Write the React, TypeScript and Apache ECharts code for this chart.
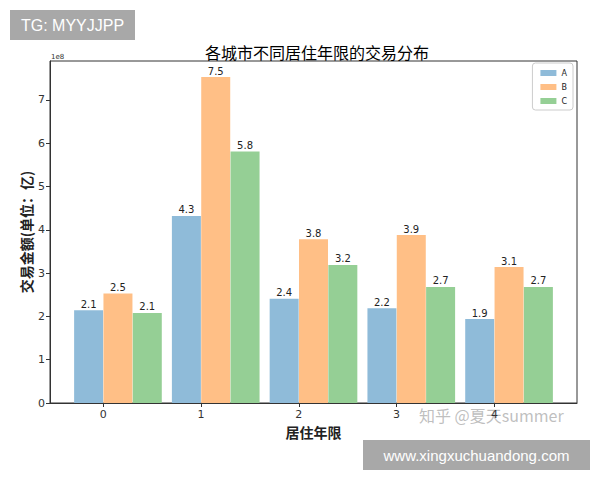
import React, { useEffect, useRef } from "react";
import * as echarts from "echarts";

const categories = [0, 1, 2, 3, 4];
const seriesNames = ["A", "B", "C"];
const valuesA = [2.14, 4.32, 2.41, 2.19, 1.94];
const valuesB = [2.53, 7.53, 3.78, 3.88, 3.14];
const valuesC = [2.08, 5.81, 3.19, 2.68, 2.68];
const yTicks = [0, 1, 2, 3, 4, 5, 6, 7];
const offsets = [-0.15, 0.15, 0.45];
const colors = ["#8fbbd9", "#ffbf86", "#95cf95"];

const FONT = "'Noto Sans CJK SC', 'DejaVu Sans', sans-serif";

export default function App() {
  const ref = useRef<HTMLDivElement>(null);
  useEffect(() => {
    if (!ref.current) return;
    const chart = echarts.init(ref.current, null, { renderer: "svg" });
    const all = [valuesA, valuesB, valuesC];
    chart.setOption({
      animation: false,
      backgroundColor: "#ffffff",
      textStyle: { fontFamily: FONT },
      title: {
        text: "各城市不同居住年限的交易分布",
        left: 312,
        textAlign: "center",
        top: 39,
        textStyle: { fontSize: 16, fontWeight: "normal", color: "#000", fontFamily: FONT },
      },
      legend: {
        data: seriesNames,
        orient: "vertical",
        right: 27,
        top: 63,
        itemWidth: 16,
        itemHeight: 6,
        itemGap: 6,
        icon: "rect",
        borderColor: "#cccccc",
        borderWidth: 1,
        borderRadius: 3,
        padding: [6, 6, 5, 8],
        textStyle: { fontSize: 8, color: "#222", fontFamily: "'DejaVu Sans', sans-serif" },
      },
      grid: {
        left: 50,
        right: 23,
        top: 61,
        bottom: 77,
        show: true,
        borderColor: "#333",
        borderWidth: 1,
        backgroundColor: "transparent",
      },
      xAxis: {
        type: "value",
        min: -0.545,
        max: 4.845,
        name: "居住年限",
        nameLocation: "middle",
        nameGap: 17,
        nameTextStyle: { fontSize: 14, fontWeight: "bold", color: "#222", fontFamily: FONT },
        axisLine: { show: true, onZero: false, lineStyle: { color: "#333" } },
        axisTick: { show: true, customValues: categories, length: 4, lineStyle: { color: "#333" } },
        axisLabel: {
          customValues: categories,
          fontSize: 11,
          color: "#333",
          margin: 6,
          fontFamily: "'DejaVu Sans', sans-serif",
        },
        splitLine: { show: false },
      },
      yAxis: {
        type: "value",
        min: 0,
        max: 7.9,
        name: "交易金额(单位：亿)",
        nameLocation: "middle",
        nameGap: 17,
        nameMoveOverlap: false,
        nameRotate: 90,
        nameTextStyle: { fontSize: 14, fontWeight: "bold", color: "#222", fontFamily: FONT },
        axisLine: { show: true, onZero: false, lineStyle: { color: "#333" } },
        axisTick: { show: true, customValues: yTicks, length: 4, lineStyle: { color: "#333" } },
        axisLabel: {
          customValues: yTicks,
          fontSize: 11,
          color: "#333",
          margin: 5,
          fontFamily: "'DejaVu Sans', sans-serif",
        },
        splitLine: { show: false },
      },
      series: seriesNames.map((name, si) => ({
        name,
        type: "bar",
        barWidth: 29,
        barGap: "-100%",
        itemStyle: { color: colors[si] },
        label: {
          show: true,
          position: "top",
          distance: 1,
          fontSize: 10,
          color: "#222",
          fontFamily: "'DejaVu Sans', sans-serif",
          formatter: (p: any) => p.value[1].toFixed(1),
        },
        data: all[si].map((v, i) => [categories[i] + offsets[si], v]),
      })),
      graphic: [
        {
          type: "text",
          left: 51,
          top: 53,
          style: { text: "1e8", fontSize: 7, fill: "#333", fontFamily: "'DejaVu Sans', sans-serif" },
        },
        {
          type: "text",
          left: 419,
          top: 407,
          style: {
            text: "知乎 @夏天summer",
            fontSize: 16,
            fill: "rgba(170,170,170,0.75)",
            fontFamily: FONT,
          },
        },
        {
          type: "group",
          left: 10,
          top: 10,
          children: [
            { type: "rect", shape: { x: 0, y: 0, width: 125, height: 30 }, style: { fill: "#a8a8a8" } },
            {
              type: "text",
              x: 62.5,
              y: 15,
              style: {
                text: "TG: MYYJJPP",
                fontSize: 16,
                fill: "#ffffff",
                align: "center",
                verticalAlign: "middle",
                fontFamily: "'Liberation Sans', Arial, sans-serif",
              },
            },
          ],
        },
        {
          type: "group",
          left: 363,
          top: 440,
          children: [
            { type: "rect", shape: { x: 0, y: 0, width: 227, height: 30 }, style: { fill: "#a8a8a8" } },
            {
              type: "text",
              x: 113.5,
              y: 15,
              style: {
                text: "www.xingxuchuandong.com",
                fontSize: 15,
                fill: "#ffffff",
                align: "center",
                verticalAlign: "middle",
                fontFamily: "'Liberation Sans', Arial, sans-serif",
              },
            },
          ],
        },
      ],
    });
    return () => chart.dispose();
  }, []);
  return (
    <div
      ref={ref}
      style={{ position: "absolute", left: 0, top: 0, width: 600, height: 480 }}
    />
  );
}
